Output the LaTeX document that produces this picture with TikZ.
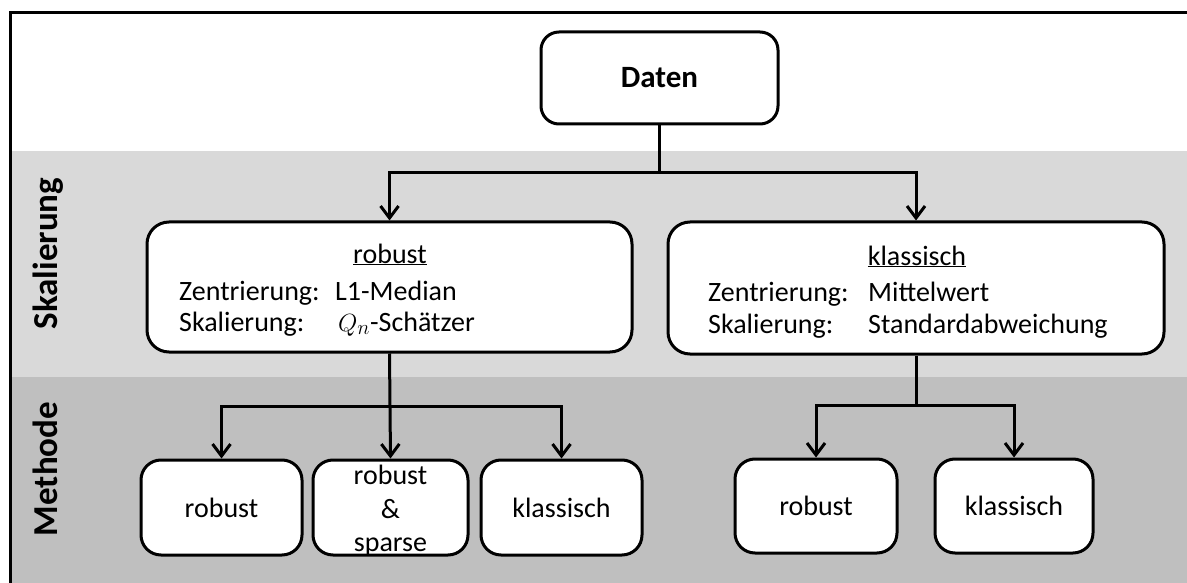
\documentclass[tikz,border=0pt]{standalone}
\usepackage{fontspec}
\setmainfont{Carlito}
\usetikzlibrary{arrows.meta}
\definecolor{bandlight}{HTML}{D9D9D9}
\definecolor{banddark}{HTML}{BFBFBF}
\tikzset{
  box/.style={draw=black, line width=3pt, fill=white, rounded corners=20pt, inner sep=0pt, align=center, font=\fontsize{28}{34}\selectfont},
  txt/.style={inner sep=0pt, font=\fontsize{28}{34}\selectfont},
  side/.style={inner sep=0pt, rotate=90, anchor=base, font=\fontsize{35}{42}\selectfont\bfseries},
  conn/.style={line width=3pt},
  arr/.style={line width=3pt, -{Straight Barb[length=12pt,width=18pt]}},
}
\begin{document}
\begin{tikzpicture}[x=1pt,y=-1pt]
\useasboundingbox (0,0) rectangle (1187,583);
% bands
\fill[bandlight] (10,151) rectangle (1187,377);
\fill[banddark] (10,377) rectangle (1187,583);
% frame
\draw[line width=3pt] (10,583) -- (10,13) -- (1187,13);
% side labels
\node[side] (lskal) at (57,253.5) {Skalierung};
\node[side] (lmeth) at (57,469) {Methode};
% top box
\node[box, rounded corners=18pt, minimum width=237pt, minimum height=92pt, font=\fontsize{31}{36}\selectfont\bfseries] (daten) at (659.5,78) {Daten};
% scaling boxes
\node[box, rounded corners=22pt, minimum width=485pt, minimum height=130pt] (rob) at (389.5,287) {};
\node[box, rounded corners=22pt, minimum width=496pt, minimum height=132pt] (kla) at (916,288) {};
% texts in robust box
\node[txt, anchor=base] (robT) at (390,263) {\underline{robust}};
\node[txt, anchor=base west] (robZ) at (179,300) {Zentrierung:};
\node[txt, anchor=base west] (robZv) at (335,300) {L1-Median};
\node[txt, anchor=base west] (robS) at (179,331) {Skalierung:};
\node[txt, anchor=base west] (robSv) at (338,331) {$Q_n$-Schätzer};
% texts in klassisch box
\node[txt, anchor=base] (klaT) at (917,265) {\underline{klassisch}};
\node[txt, anchor=base west] (klaZ) at (708,301) {Zentrierung:};
\node[txt, anchor=base west] (klaZv) at (868,301) {Mittelwert};
\node[txt, anchor=base west] (klaS) at (708,333) {Skalierung:};
\node[txt, anchor=base west] (klaSv) at (868,333) {Standardabweichung};
% method boxes
\node[box, minimum width=161pt, minimum height=95pt] (m1) at (221.5,507.5) {robust};
\node[box, minimum width=155pt, minimum height=95pt] (m2) at (390.5,507.5) {};
\node[txt, anchor=base] (m2a) at (390.5,484) {robust};
\node[txt, anchor=base] (m2b) at (390.5,518) {\&};
\node[txt, anchor=base] (m2c) at (390.5,551) {sparse};
\node[box, minimum width=161pt, minimum height=95pt] (m3) at (561.5,507.5) {klassisch};
\node[box, minimum width=162pt, minimum height=94pt] (m4) at (816,506) {robust};
\node[box, minimum width=158pt, minimum height=94pt] (m5) at (1014,506) {klassisch};
% connectors
\coordinate (j1) at (659.5,173);
\coordinate (j2) at (390,406);
\coordinate (j3) at (916,405);
\draw[conn] (daten.south) -- (j1);
\draw[arr] (j1) -| (rob.north);
\draw[arr] (j1) -| (kla.north);
\draw[conn] (rob.south) -- (j2);
\draw[arr] (j2) -| (m1.north);
\draw[arr] (j2) -- (m2.north);
\draw[arr] (j2) -| (m3.north);
\draw[conn] (kla.south) -- (j3);
\draw[arr] (j3) -| (m4.north);
\draw[arr] (j3) -| (m5.north);
\end{tikzpicture}
\end{document}
